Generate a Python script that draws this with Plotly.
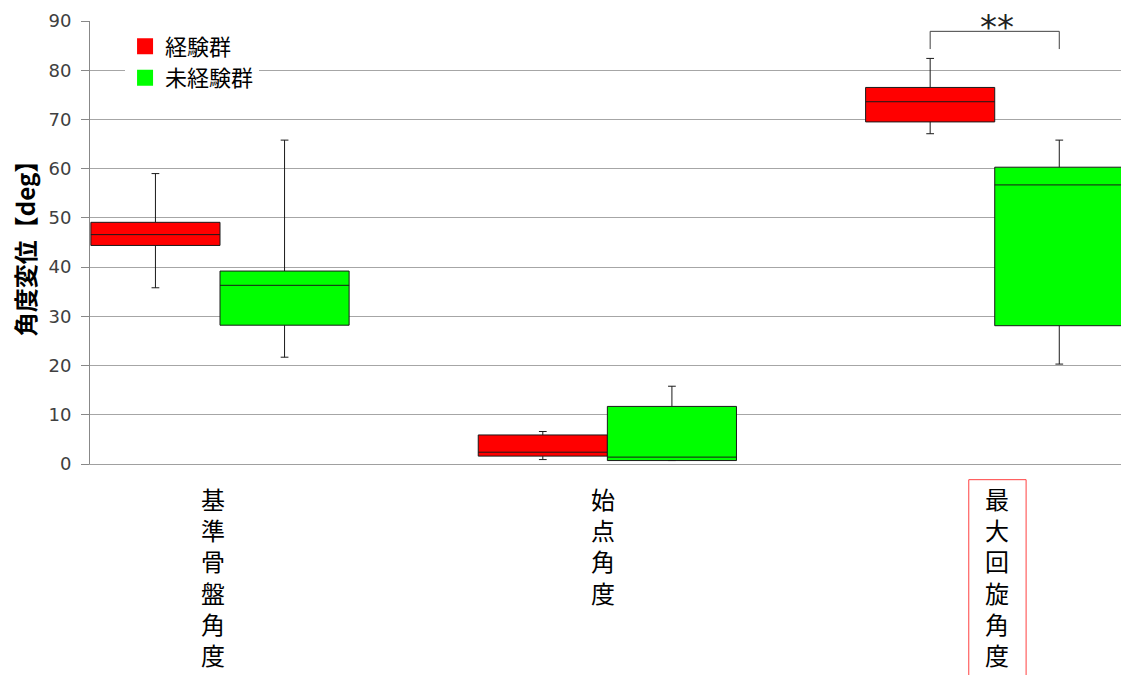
import plotly.graph_objects as go

# Categories and groups
categories = ["基準骨盤角度", "始点角度", "最大回旋角度"]
series_names = ["経験群", "未経験群"]
series_colors = ["#FF0000", "#00FF00"]

# Box statistics per category (deg): experienced group
exp_low = [35.8, 0.9, 67.1]
exp_q1 = [44.4, 1.6, 69.5]
exp_median = [46.6, 2.4, 73.6]
exp_q3 = [49.1, 5.9, 76.5]
exp_high = [59.0, 6.6, 82.4]

# Box statistics per category (deg): inexperienced group
nov_low = [21.7, 0.7, 20.3]
nov_q1 = [28.2, 0.7, 28.1]
nov_median = [36.3, 1.4, 56.7]
nov_q3 = [39.2, 11.7, 60.3]
nov_high = [65.8, 15.8, 65.8]

y_ticks = list(range(0, 91, 10))

# significance marker between the two groups of the last category
sig_category = 2
sig_text = "**"
sig_bracket = (84.3, 87.9)

BOX_W = 1 / 3
offsets = [-BOX_W / 2, BOX_W / 2]
stats = [
    (exp_low, exp_q1, exp_median, exp_q3, exp_high),
    (nov_low, nov_q1, nov_median, nov_q3, nov_high),
]

CJK = "Noto Sans CJK JP"
fig = go.Figure()

for name, color, off, (lo, q1, md, q3, hi) in zip(series_names, series_colors, offsets, stats):
    fig.add_trace(go.Box(
        x=[i + off for i in range(len(categories))],
        lowerfence=lo, q1=q1, median=md, q3=q3, upperfence=hi,
        width=BOX_W,
        boxpoints=False,
        fillcolor=color,
        line=dict(color="#1a1a1a", width=1),
        whiskerwidth=0.06,
        name=name,
        showlegend=False,
        hoverinfo="skip",
    ))
    # legend entry as a solid square
    fig.add_trace(go.Scatter(
        x=[None], y=[None], mode="markers", name=name,
        marker=dict(symbol="square", size=16, color=color),
    ))

# significance bracket
x0 = sig_category + offsets[0]
x1 = sig_category + offsets[1]
fig.add_shape(
    type="path",
    path=f"M {x0},{sig_bracket[0]} L {x0},{sig_bracket[1]} L {x1},{sig_bracket[1]} L {x1},{sig_bracket[0]}",
    xref="x", yref="y", line=dict(color="#404040", width=1),
)
fig.add_annotation(
    x=sig_category, y=sig_bracket[1], xref="x", yref="y", text=sig_text,
    showarrow=False, yanchor="bottom", yshift=-18, xshift=2,
    font=dict(family="DejaVu Sans", size=34, color="#222222"),
)

# vertical category labels under the axis
label_shift = [-7, -4, 2]
for i, cat in enumerate(categories):
    fig.add_annotation(
        x=i, y=-0.033, xref="x", yref="paper", xshift=label_shift[i],
        text="<br>".join(cat), showarrow=False, yanchor="top", align="center",
        font=dict(family=CJK, size=24, color="#000000"),
    )

# red frame around the highlighted category label
fig.add_shape(
    type="rect", xref="x", yref="paper",
    x0=sig_category - 0.067, x1=sig_category + 0.081, y0=-0.0354, y1=-0.6,
    line=dict(color="#FF4040", width=1),
)

fig.update_layout(
    width=1121, height=675,
    margin=dict(l=90, r=0, t=21, b=211),
    paper_bgcolor="white", plot_bgcolor="white",
    boxmode="overlay",
    legend=dict(
        x=0.034, y=0.99, xanchor="left", yanchor="top",
        bgcolor="white", borderwidth=0,
        font=dict(family=CJK, size=22, color="#000000"),
    ),
    xaxis=dict(
        range=[-0.3356, 2.326], showgrid=False, zeroline=False,
        showticklabels=False, ticks="",
        showline=True, linecolor="#A0A0A0", linewidth=1,
    ),
    yaxis=dict(
        range=[0, 90], tickvals=y_ticks,
        showgrid=True, gridcolor="#A6A6A6", gridwidth=1,
        zeroline=False,
        showline=True, linecolor="#888888", linewidth=1,
        ticks="outside", ticklen=8, tickcolor="#888888",
        ticklabelstandoff=6,
        tickfont=dict(family="DejaVu Sans", size=18, color="#404040"),
        title=dict(text="<b>角度変位【deg】</b>", standoff=6,
                   font=dict(family=CJK, size=24, color="#000000")),
    ),
)

fig.write_html("out.html")
